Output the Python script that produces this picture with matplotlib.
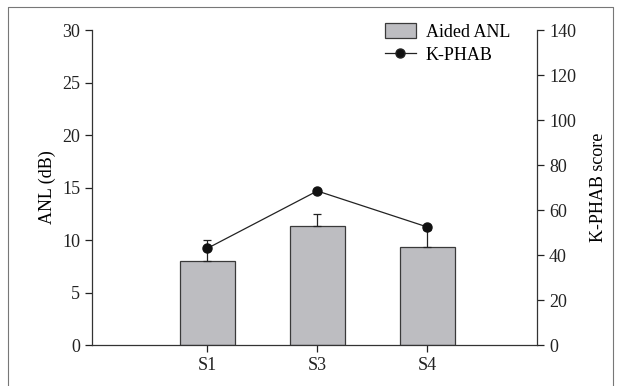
import matplotlib.pyplot as plt
from matplotlib.lines import Line2D
from matplotlib.patches import Patch

plt.rcParams['font.family'] = ['Liberation Serif', 'DejaVu Serif']

# data
subjects = ['S1', 'S3', 'S4']
anl = [8.0, 11.3, 9.3]
anl_err = [2.0, 1.2, 1.7]
kphab = [43.0, 68.5, 52.5]

x = [1, 2, 3]

fig = plt.figure(figsize=(6.21, 3.86), dpi=100)
ax = fig.add_axes([0.148, 0.106, 0.717, 0.816])

ax.bar(x, anl, width=0.5, color='#bdbdc1', edgecolor='#3a3a3a', linewidth=0.9, zorder=2)
ax.errorbar(x, anl, yerr=[[0, 0, 0], anl_err], fmt='none', ecolor='#222222',
            elinewidth=0.9, capsize=3, capthick=0.9, zorder=3)

ax.set_xlim(-0.05, 4.0)
ax.set_ylim(0, 30)
ax.set_yticks([0, 5, 10, 15, 20, 25, 30])
ax.set_xticks(x)
ax.set_xticklabels(subjects)
ax.set_ylabel('ANL (dB)', fontsize=13, labelpad=4)
ax.spines['top'].set_visible(False)
ax.spines['right'].set_visible(False)
ax.tick_params(direction='out', length=5, width=0.9, labelsize=13, colors='#222222')
for s in ['left', 'bottom']:
    ax.spines[s].set_linewidth(0.9)
    ax.spines[s].set_color('#333333')

ax2 = ax.twinx()
ax2.plot(x, kphab, color='#222222', linewidth=0.9, marker='o', markersize=6.5,
         markerfacecolor='#111111', markeredgecolor='#111111', zorder=4)
ax2.set_ylim(0, 140)
ax2.set_yticks(range(0, 141, 20))
ax2.set_ylabel('K-PHAB score', fontsize=13, labelpad=10)
ax2.spines['top'].set_visible(False)
ax2.spines['left'].set_visible(False)
ax2.spines['bottom'].set_visible(False)
ax2.spines['right'].set_linewidth(0.9)
ax2.spines['right'].set_color('#333333')
ax2.tick_params(direction='out', length=5, width=0.9, labelsize=13, colors='#222222')

handles = [Patch(facecolor='#bdbdc1', edgecolor='#3a3a3a', linewidth=0.9, label='Aided ANL'),
           Line2D([], [], color='#222222', linewidth=0.9, marker='o', markersize=6.5,
                  markerfacecolor='#111111', label='K-PHAB')]
ax2.legend(handles=handles, loc='upper right', bbox_to_anchor=(0.955, 1.045), frameon=False,
           fontsize=13, handlelength=1.7, handleheight=0.9, labelspacing=0.3,
           handletextpad=0.55, borderaxespad=0)

# thin frame around the figure
fig.add_artist(Line2D([8 / 621, 8 / 621, 613 / 621, 613 / 621],
                      [0, 1 - 7 / 386, 1 - 7 / 386, 0],
                      transform=fig.transFigure, color='#777777', linewidth=0.8))

fig.savefig('out.png', dpi=100)
